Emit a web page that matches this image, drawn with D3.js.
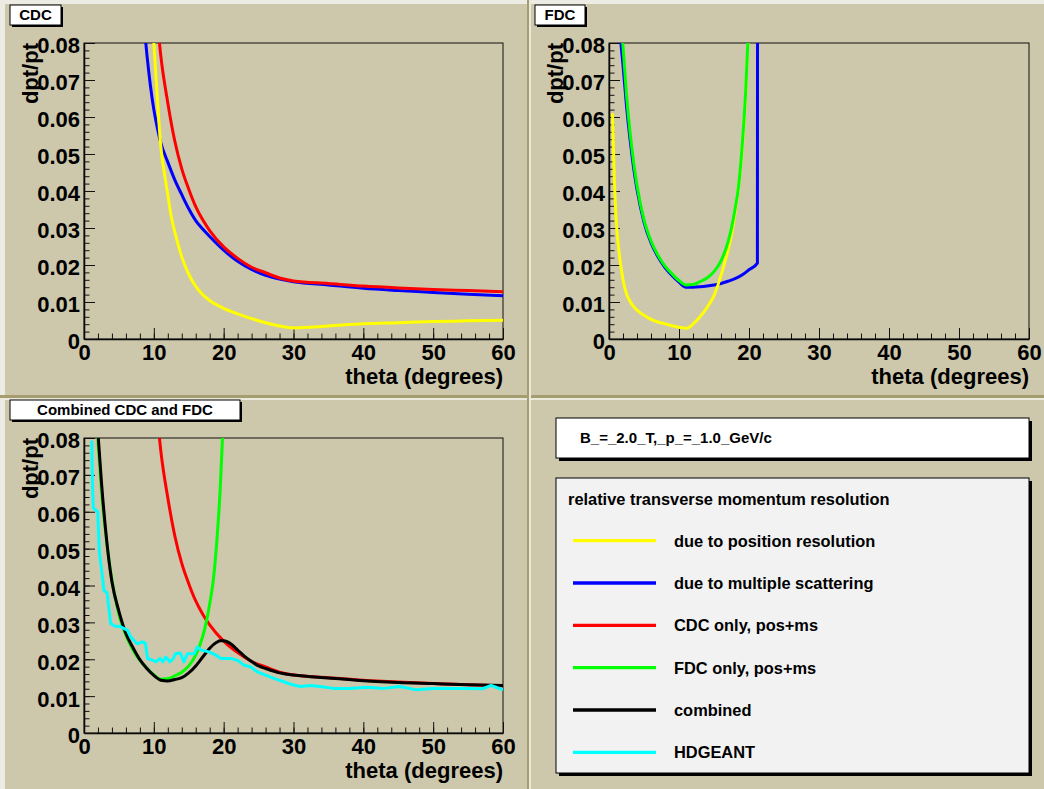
<!DOCTYPE html>
<html><head><meta charset="utf-8">
<script src="https://cdn.jsdelivr.net/npm/d3@7"></script>
<style>
html,body{margin:0;padding:0;background:#cdc7ab;}
svg{display:block;}
text{font-family:"Liberation Sans",Arial,Helvetica,sans-serif;font-weight:bold;}
</style></head><body>
<svg id="c" width="1044" height="789"></svg>
<script>
// ---------------- data ----------------
const xTicks = [0, 10, 20, 30, 40, 50, 60];
const xTickLabels = ["0", "10", "20", "30", "40", "50", "60"];
const yTicks = [0, 0.01, 0.02, 0.03, 0.04, 0.05, 0.06, 0.07, 0.08];
const yTickLabels = ["0", "0.01", "0.02", "0.03", "0.04", "0.05", "0.06", "0.07", "0.08"];
const xTitle = "theta (degrees)";
const yTitle = "dpt/pt";
const panelTitles = ["CDC", "FDC", "Combined CDC and FDC"];

// CDC: position resolution (yellow)
const cdcPosTheta = [9.5, 10, 10.5, 11, 11.5, 12, 12.5, 13, 14, 15, 16, 17, 18, 20, 22, 24, 26, 28, 30, 35, 40, 45, 50, 55, 60];
const cdcPosRes   = [0.095, 0.080, 0.065, 0.052, 0.045, 0.039, 0.033, 0.029, 0.0222, 0.0175, 0.0142, 0.0120, 0.0104, 0.0083, 0.0068, 0.0055, 0.0044, 0.0035, 0.0030, 0.0035, 0.0041, 0.0044, 0.0047, 0.0049, 0.0051];
// CDC: multiple scattering (blue)
const cdcMsTheta = [8.5, 9, 10, 10.4, 11, 12, 13, 14, 15, 16, 17, 18, 20, 22, 24, 26, 28, 30, 35, 40, 45, 50, 55, 60];
const cdcMsRes   = [0.087, 0.077, 0.062, 0.058, 0.053, 0.0478, 0.043, 0.039, 0.0352, 0.032, 0.0297, 0.0277, 0.0240, 0.0210, 0.0188, 0.0172, 0.0162, 0.0155, 0.0146, 0.0137, 0.0131, 0.0126, 0.0121, 0.0117];
// CDC only, pos+ms (red)
const cdcTotTheta = [10.5, 11, 12, 13, 14, 15, 16, 17, 18, 20, 22, 24, 26, 28, 30, 35, 40, 45, 50, 55, 60];
const cdcTotRes   = [0.086, 0.0765, 0.0638, 0.0535, 0.0460, 0.0405, 0.0358, 0.0322, 0.0293, 0.0249, 0.0218, 0.0194, 0.0179, 0.0165, 0.0157, 0.0150, 0.0143, 0.0138, 0.0134, 0.0131, 0.0128];

// FDC: position resolution (yellow)
const fdcPosTheta = [0.5, 0.75, 1, 1.5, 2, 2.5, 3, 3.5, 4, 5, 6, 7, 8, 9, 10, 11, 11.5, 12, 13, 14, 15, 16, 16.5, 17, 17.5, 18, 18.5, 19, 19.5, 20];
const fdcPosRes   = [0.061, 0.044, 0.033, 0.0225, 0.0160, 0.0122, 0.0102, 0.0088, 0.0078, 0.0064, 0.0053, 0.0046, 0.0041, 0.0036, 0.0032, 0.0029, 0.0032, 0.0040, 0.0060, 0.0085, 0.0117, 0.0172, 0.0205, 0.0240, 0.0282, 0.0340, 0.0412, 0.0505, 0.065, 0.087];
// FDC: multiple scattering (blue)
const fdcMsTheta = [1.5, 2, 2.5, 3, 3.5, 4, 5, 6, 7, 8, 9, 10, 11, 12, 13, 14, 15, 16, 17, 18, 19, 20, 21.2, 21.25];
const fdcMsRes   = [0.084, 0.074, 0.063, 0.054, 0.0465, 0.0405, 0.0316, 0.0260, 0.0222, 0.0193, 0.0172, 0.0154, 0.0140, 0.0140, 0.0141, 0.0143, 0.0146, 0.0150, 0.0156, 0.0163, 0.0173, 0.0187, 0.0205, 0.2];
// FDC only, pos+ms (green)
const fdcTotTheta = [1.8, 2, 2.5, 3, 3.5, 4, 5, 6, 7, 8, 9, 10, 11, 12, 13, 14, 15, 16, 17, 17.5, 18, 18.5, 19, 19.5, 20];
const fdcTotRes   = [0.085, 0.079, 0.066, 0.056, 0.048, 0.0415, 0.0322, 0.0265, 0.0226, 0.0197, 0.0176, 0.0158, 0.0146, 0.0147, 0.0155, 0.0165, 0.0182, 0.0211, 0.0262, 0.0300, 0.0350, 0.0412, 0.0515, 0.066, 0.087];

// Combined (black)
const combTheta = [1.8, 2.05, 2.5, 3, 3.72, 4, 5, 6, 7, 8, 9, 10, 11, 12, 13, 14, 15, 16, 17, 18, 19, 19.5, 20, 21, 22, 23, 24, 25, 26, 28, 30, 35, 40, 45, 50, 55, 60];
const combRes   = [0.088, 0.080, 0.068, 0.057, 0.0446, 0.041, 0.033, 0.027, 0.0232, 0.0199, 0.0175, 0.0156, 0.0143, 0.0141, 0.0145, 0.0150, 0.0163, 0.0182, 0.0206, 0.0230, 0.0246, 0.0250, 0.0250, 0.0242, 0.0225, 0.0208, 0.0194, 0.0182, 0.0175, 0.0163, 0.0157, 0.0149, 0.0142, 0.0137, 0.0134, 0.0131, 0.0129];

// HDGEANT simulation (cyan)
const geantTheta = [0.96, 1.1, 1.24, 1.34, 1.96, 2.2, 2.55, 2.86, 3.3, 3.82, 4.4, 5.25, 6.2, 6.7, 7.6, 8.4, 8.8, 9.1, 9.9, 10.3, 10.9, 11.3, 11.7, 12.3, 12.8, 13.1, 13.8, 14.3, 14.8, 15.8, 16.2, 16.9, 17.9, 18.9, 19.6, 21.0, 22.0, 22.9, 23.9, 24.8, 26.0, 27.2, 28.6, 30.0, 31.0, 32.4, 33.8, 35.7, 38.0, 40.5, 42.9, 45.2, 47.6, 50.0, 52.4, 54.8, 57.1, 58.3, 59.0, 60.0];
const geantRes   = [0.079, 0.079, 0.066, 0.061, 0.060, 0.049, 0.0437, 0.0387, 0.038, 0.0297, 0.029, 0.0288, 0.0279, 0.026, 0.0242, 0.0247, 0.0243, 0.0202, 0.0197, 0.0193, 0.0202, 0.0193, 0.0206, 0.0193, 0.0202, 0.0215, 0.0217, 0.0193, 0.0215, 0.0215, 0.0233, 0.0224, 0.0220, 0.0211, 0.0202, 0.0202, 0.0197, 0.0184, 0.0179, 0.0166, 0.0157, 0.0148, 0.0139, 0.0130, 0.0126, 0.0129, 0.0126, 0.0121, 0.0121, 0.0124, 0.0121, 0.0126, 0.0117, 0.0121, 0.0121, 0.0121, 0.0120, 0.0129, 0.0124, 0.0117];

const legendHeader = "relative transverse momentum resolution";
const legendLabels = ["due to position resolution", "due to multiple scattering", "CDC only, pos+ms", "FDC only, pos+ms", "combined", "HDGEANT"];
const legendColors = ["#ffff00", "#0000ff", "#ff0000", "#00ff00", "#000000", "#00ffff"];
const paramText = "B_=_2.0_T,_p_=_1.0_GeV/c";

// ---------------- drawing ----------------
const W = 1044, H = 789;
const BG = "#cdc7ab", LIGHT = "#ecebe4", DARK = "#a59c6f";
const svg = d3.select("#c");
const defs = svg.append("defs");

svg.append("rect").attr("width", W).attr("height", H).attr("fill", BG);
svg.append("rect").attr("x", 0).attr("y", 0).attr("width", W).attr("height", 4).attr("fill", LIGHT);
svg.append("rect").attr("x", 0).attr("y", 0).attr("width", 5).attr("height", H).attr("fill", LIGHT);
// pad dividers (bevel)
svg.append("rect").attr("x", 0).attr("y", 395).attr("width", W).attr("height", 3).attr("fill", DARK);
svg.append("rect").attr("x", 0).attr("y", 398).attr("width", W).attr("height", 2).attr("fill", "#ebe8dc");
svg.append("rect").attr("x", 527).attr("y", 0).attr("width", 2).attr("height", H).attr("fill", DARK);
svg.append("rect").attr("x", 529).attr("y", 0).attr("width", 2).attr("height", H).attr("fill", "#ebe8dc");

function box(x0, y0, x1, y1, fill, sh) {
  svg.append("rect").attr("x", x0 + sh).attr("y", y0 + sh).attr("width", x1 - x0).attr("height", y1 - y0).attr("fill", "#000");
  svg.append("rect").attr("x", x0).attr("y", y0).attr("width", x1 - x0).attr("height", y1 - y0)
    .attr("fill", fill).attr("stroke", "#000").attr("stroke-width", 1);
}

const zip = (a, b) => a.map((t, i) => [t, b[i]]);

const panels = [
  { id: "cdc", x0: 84, x1: 503, y0: 43, y1: 339, tb: [10, 5, 61, 25], title: panelTitles[0],
    series: [[cdcMsTheta, cdcMsRes, legendColors[1]], [cdcPosTheta, cdcPosRes, legendColors[0]], [cdcTotTheta, cdcTotRes, legendColors[2]]] },
  { id: "fdc", x0: 609, x1: 1029, y0: 43, y1: 339, tb: [535, 5, 585, 25], title: panelTitles[1],
    series: [[fdcMsTheta, fdcMsRes, legendColors[1]], [fdcPosTheta, fdcPosRes, legendColors[0]], [fdcTotTheta, fdcTotRes, legendColors[3]]] },
  { id: "comb", x0: 84, x1: 503, y0: 438, y1: 733, tb: [10, 400, 240, 420], title: panelTitles[2],
    series: [[cdcTotTheta, cdcTotRes, legendColors[2]], [fdcTotTheta, fdcTotRes, legendColors[3]], [combTheta, combRes, legendColors[4]], [geantTheta, geantRes, legendColors[5], true]] }
];

panels.forEach(p => {
  const x = d3.scaleLinear().domain([0, 60]).range([p.x0, p.x1]);
  const y = d3.scaleLinear().domain([0, 0.08]).range([p.y1, p.y0]);
  defs.append("clipPath").attr("id", "clip-" + p.id).append("rect")
    .attr("x", p.x0).attr("y", p.y0).attr("width", p.x1 - p.x0).attr("height", p.y1 - p.y0);

  const g = svg.append("g");
  // minor ticks
  g.append("g").attr("transform", `translate(0,${p.y1})`)
    .call(d3.axisBottom(x).tickValues(d3.range(0, 60.001, 2)).tickSize(-5.5).tickSizeOuter(0).tickFormat(""))
    .call(a => a.select(".domain").remove());
  g.append("g").attr("transform", `translate(${p.x0},0)`)
    .call(d3.axisLeft(y).tickValues(d3.range(0, 0.08001, 0.002)).tickSize(-5.5).tickSizeOuter(0).tickFormat(""))
    .call(a => a.select(".domain").remove());
  // major ticks + labels
  const xa = g.append("g").attr("transform", `translate(0,${p.y1})`)
    .call(d3.axisBottom(x).tickValues(xTicks).tickSize(-11).tickSizeOuter(0).tickPadding(5).tickFormat((d, i) => xTickLabels[i]));
  xa.attr("font-size", 22);
  xa.select(".domain").attr("stroke-width", 1.5);
  const ya = g.append("g").attr("transform", `translate(${p.x0},0)`)
    .call(d3.axisLeft(y).tickValues(yTicks).tickSize(-11).tickSizeOuter(0).tickPadding(4).tickFormat((d, i) => yTickLabels[i]));
  ya.attr("font-size", 22);
  ya.selectAll("text").attr("dy", "0.45em");
  ya.select(".domain").attr("stroke-width", 1.5);
  g.selectAll(".tick line").attr("stroke", "#111");

  // frame
  g.append("rect").attr("x", p.x0).attr("y", p.y0).attr("width", p.x1 - p.x0).attr("height", p.y1 - p.y0)
    .attr("fill", "none").attr("stroke", "#111").attr("stroke-width", 1);

  // curves
  const cg = g.append("g").attr("clip-path", `url(#clip-${p.id})`);
  p.series.forEach(s => {
    const line = d3.line().x(d => x(d[0])).y(d => y(d[1]))
      .curve(s[3] ? d3.curveLinear : d3.curveMonotoneX);
    cg.append("path").datum(zip(s[0], s[1])).attr("d", line)
      .attr("fill", "none").attr("stroke", s[2]).attr("stroke-width", 3)
      .attr("stroke-linejoin", "round");
  });

  // axis titles
  g.append("text").attr("x", p.x1).attr("y", p.y1 + 45).attr("text-anchor", "end")
    .attr("font-size", 22).attr("fill", "#000").text(xTitle);
  g.append("text").attr("transform", `translate(${p.x0 - 46},${p.y0}) rotate(-90)`).attr("text-anchor", "end")
    .attr("font-size", 22).attr("fill", "#000").text(yTitle);

  // title box
  const t = p.tb;
  box(t[0], t[1], t[2], t[3], "#ffffff", 2);
  svg.append("text").attr("x", (t[0] + t[2]) / 2).attr("y", t[3] - 5).attr("text-anchor", "middle")
    .attr("font-size", 15).attr("fill", "#000").text(p.title);
});

// ---------------- legend pad ----------------
box(556, 418, 1029, 458, "#ffffff", 3);
svg.append("text").attr("x", 580).attr("y", 443).attr("font-size", 15).attr("fill", "#000").text(paramText);

box(556, 478, 1029, 773, "#f2f2f2", 3);
svg.append("text").attr("x", 568).attr("y", 505).attr("font-size", 16.4).attr("fill", "#000").text(legendHeader);
const ly = d3.scalePoint().domain(d3.range(legendLabels.length)).range([540.7, 752.3]);
legendLabels.forEach((lab, i) => {
  svg.append("line").attr("x1", 573).attr("x2", 656).attr("y1", ly(i)).attr("y2", ly(i))
    .attr("stroke", legendColors[i]).attr("stroke-width", 3.3);
  svg.append("text").attr("x", 674).attr("y", ly(i) + 6).attr("font-size", 16.4).attr("fill", "#000").text(lab);
});
</script>
</body></html>
